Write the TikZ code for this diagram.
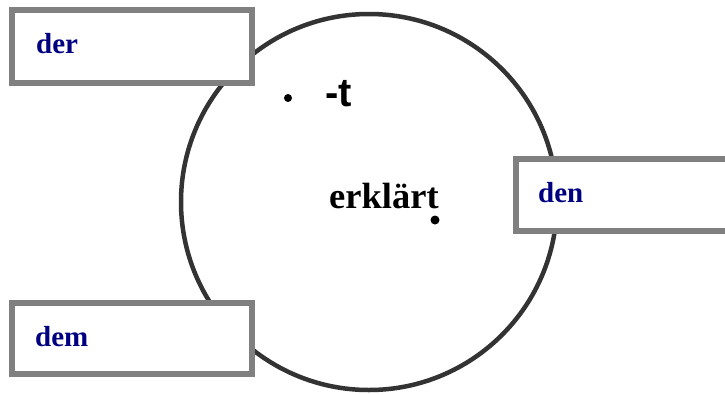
\documentclass[tikz,border=0pt]{standalone}
\usepackage{fontspec}
\setmainfont{Liberation Serif}
\newfontfamily\sansfont{Liberation Sans}
\definecolor{ringgray}{HTML}{333333}
\definecolor{boxgray}{HTML}{808080}
\definecolor{wordblue}{HTML}{000080}
\begin{document}
\begin{tikzpicture}[x=1pt,y=-1pt,
  ring/.style={draw=ringgray,line width=4.5pt},
  wordbox/.style={draw=boxgray,fill=white,line width=5.5pt},
  word/.style={anchor=base west,inner sep=0pt,text=wordblue,font=\fontsize{29}{35}\selectfont\bfseries},
  dotmark/.style={circle,fill=black,inner sep=0pt,minimum size=#1}]
\useasboundingbox (0,0) rectangle (725,394);
\clip (0,0) rectangle (725,394);
\node[circle,ring,minimum size=376pt,inner sep=0pt] (ring) at (369,202) {};
\draw[wordbox] (12,10) rectangle (252,83);
\draw[wordbox] (12,303) rectangle (252,374);
\draw[wordbox] (516,159) rectangle (745,231);
\node[word] (der) at (36,53) {der};
\node[word] (dem) at (35,346) {dem};
\node[word] (den) at (538,202) {den};
\node[anchor=base west,inner sep=0pt,font=\sansfont\fontsize{40}{46}\selectfont\bfseries] (suffix) at (325,106) {-t};
\node[anchor=base west,inner sep=0pt,font=\fontsize{36.5}{44}\selectfont\bfseries] (verb) at (329,208) {erklärt};
\node[dotmark=8pt] (dot1) at (288,98) {};
\node[dotmark=9pt] (dot2) at (435,220) {};
\end{tikzpicture}
\end{document}
